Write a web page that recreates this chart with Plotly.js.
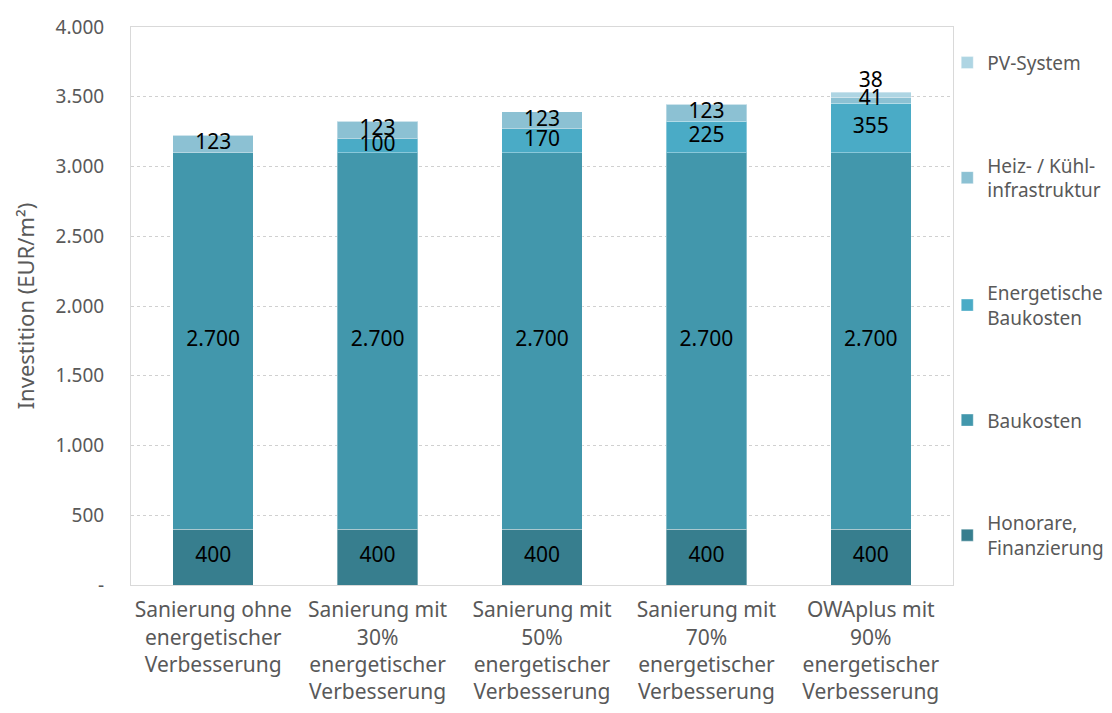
<!DOCTYPE html>
<html>
<head>
<meta charset="utf-8">
<script src="https://cdn.plot.ly/plotly-3.0.1.min.js"></script>
<style>html,body{margin:0;padding:0;background:#fff;}#chart{width:1112px;height:713px;}</style>
</head>
<body>
<div id="chart"></div>
<script>
const categories = [
  "Sanierung ohne<br>energetischer<br>Verbesserung",
  "Sanierung mit<br>30%<br>energetischer<br>Verbesserung",
  "Sanierung mit<br>50%<br>energetischer<br>Verbesserung",
  "Sanierung mit<br>70%<br>energetischer<br>Verbesserung",
  "OWAplus mit<br>90%<br>energetischer<br>Verbesserung"
];
const honorare = [400, 400, 400, 400, 400];
const baukosten = [2700, 2700, 2700, 2700, 2700];
const energetisch = [0, 100, 170, 225, 355];
const heizKuehl = [123, 123, 123, 123, 41];
const pvSystem = [0, 0, 0, 0, 38];
const seriesNames = ["Honorare,<br>Finanzierung", "Baukosten", "Energetische<br>Baukosten", "Heiz- / Kühl-<br>infrastruktur", "PV-System"];
const yTickVals = [0, 500, 1000, 1500, 2000, 2500, 3000, 3500, 4000];
const yTickText = ["-", "500", "1.000", "1.500", "2.000", "2.500", "3.000", "3.500", "4.000"];

const colors = ["#377E8E", "#4297AC", "#4AABC6", "#8CC1D3", "#AED5E3"];
const FONT = "Noto Sans, Open Sans, sans-serif";
const fmt = v => v >= 1000 ? String(v).replace(/(\d)(\d{3})$/, "$1.$2") : String(v);

const seriesData = [honorare, baukosten, energetisch, heizKuehl, pvSystem];
const traces = seriesData.map((vals, i) => ({
  type: "bar",
  x: categories,
  y: vals,
  name: seriesNames[i],
  legendgroup: "g" + i,
  legendrank: 5 - i,
  marker: {color: colors[i], line: {color: "rgba(255,255,255,0.35)", width: 1}},
  hoverinfo: "skip"
}));

// data labels drawn on top of all bars, from the series arrays
const labX = [], labY = [], labT = [];
const topX = [], topY = [], topT = [];
categories.forEach((c, j) => {
  let base = 0;
  seriesData.forEach((vals, i) => {
    const v = vals[j];
    if (v > 0) {
      if (i === 4) {
        topX.push(c); topY.push(base + v); topT.push(fmt(v));
      } else {
        labX.push(c); labY.push(base + v / 2); labT.push(fmt(v));
      }
    }
    base += v;
  });
});
traces.push({
  type: "scatter", mode: "text", x: labX, y: labY, text: labT,
  textposition: "middle center",
  textfont: {family: FONT, size: 21, color: "#000"},
  showlegend: false, hoverinfo: "skip", cliponaxis: false
});
traces.push({
  type: "scatter", mode: "text", x: topX, y: topY, text: topT,
  textposition: "top center",
  textfont: {family: FONT, size: 21, color: "#000"},
  showlegend: false, hoverinfo: "skip", cliponaxis: false
});

const layout = {
  width: 1112,
  height: 713,
  margin: {l: 131, r: 159, t: 27, b: 128, autoexpand: false},
  barmode: "stack",
  bargap: 0.51,
  paper_bgcolor: "#fff",
  plot_bgcolor: "#fff",
  font: {family: FONT, color: "#595959", size: 18},
  showlegend: true,
  legend: {
    x: 0.993, xanchor: "left",
    y: 0.97, yanchor: "top",
    traceorder: "grouped",
    tracegroupgap: 75,
    itemwidth: 30,
    font: {size: 19, color: "#595959"},
    bgcolor: "rgba(0,0,0,0)"
  },
  xaxis: {
    showgrid: false,
    showline: true,
    linecolor: "#d9d9d9",
    mirror: true,
    ticks: "",
    ticklabelstandoff: 6,
    tickfont: {size: 21, color: "#595959"},
    fixedrange: true
  },
  yaxis: {
    range: [0, 4000],
    tickvals: yTickVals,
    ticktext: yTickText,
    showgrid: true,
    gridcolor: "#d0d0d0",
    griddash: "dot",
    showline: true,
    linecolor: "#d9d9d9",
    mirror: true,
    zeroline: false,
    ticks: "",
    ticklabelstandoff: 22,
    tickfont: {size: 19, color: "#595959"},
    title: {text: "Investition (EUR/m²)", font: {size: 22, color: "#595959"}, standoff: 14},
    fixedrange: true
  }
};

Plotly.newPlot("chart", traces, layout, {displayModeBar: false, staticPlot: true});
</script>
</body>
</html>
